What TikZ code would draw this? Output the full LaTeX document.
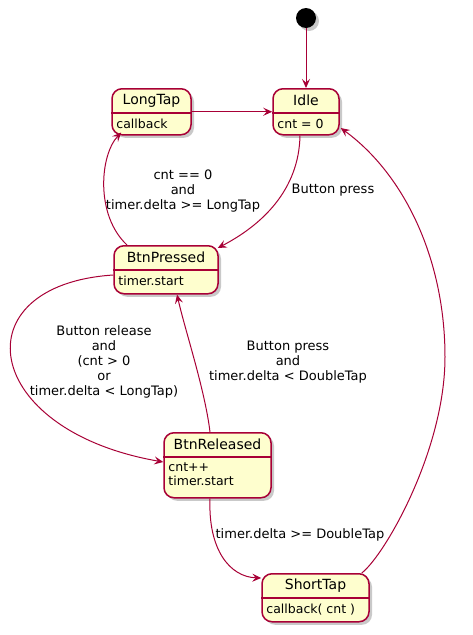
\documentclass[tikz,border=0pt]{standalone}
\usepackage{fontspec}
\setmainfont{DejaVu Sans}
\usetikzlibrary{arrows.meta,shadows}
\definecolor{stfill}{HTML}{FEFECE}
\definecolor{stline}{HTML}{A80036}
\tikzset{
  stateshape/.style={draw=stline, line width=1.5pt, fill=stfill, rounded corners=10pt, inner sep=0pt,
    drop shadow={shadow xshift=3pt, shadow yshift=-3pt, opacity=0.35, fill=black!60}},
  divline/.style={draw=stline, line width=1.5pt},
  titletext/.style={inner sep=0pt, font=\fontsize{14}{16}\selectfont},
  bodytext/.style={inner sep=0pt, align=left, font=\fontsize{12.5}{14}\selectfont},
  trans/.style={draw=stline, line width=1pt, -{Stealth[length=9pt,width=8pt,inset=3.5pt]}},
  lbl/.style={inner sep=0pt, align=center, font=\fontsize{13}{15}\selectfont},
}
\newcommand\stbox[7]{%
  \node[stateshape, minimum width=#4pt, minimum height=#5pt, anchor=north] (#1) at (#2,#3) {};
  \draw[divline] ([yshift=-25pt]#1.north west) -- ([yshift=-25pt]#1.north east);
  \node[titletext] (#1-t) at ([yshift=-12.5pt]#1.north) {#6};
  \node[bodytext, anchor=north west] (#1-b) at ([xshift=5pt,yshift=-31pt]#1.north west) {#7};
}
\begin{document}
\begin{tikzpicture}[x=1pt,y=-1pt]
\useasboundingbox (0,0) rectangle (472,635);
\fill[white] (0,0) rectangle (472,635);
% initial
\node[circle, fill=black, minimum size=20pt, inner sep=0pt,
  drop shadow={shadow xshift=3pt, shadow yshift=-3pt, opacity=0.35, fill=black!60}] (init) at (306,18) {};
% states
\stbox{idle}{306}{88}{66}{46}{Idle}{cnt = 0}
\stbox{longtap}{151.5}{88}{79}{46}{LongTap}{callback}
\stbox{btnp}{166}{245}{104}{48}{BtnPressed}{timer.start}
\stbox{btnr}{217.5}{432}{107}{65}{BtnReleased}{cnt++\\timer.start}
\stbox{shorttap}{315.5}{573}{107}{48}{ShortTap}{callback( cnt )}
% transitions
\draw[trans] (init) -- (idle.north);
\draw[trans] (longtap.east) -- (idle.west);
\draw[trans] ([xshift=-6pt]idle.south) .. controls (299,190) and (262,225) .. ([xshift=-1pt,yshift=-3pt]btnp.north east);
\node[lbl] (l1) at (333,190) {Button press};
\draw[trans] ([xshift=-39pt]btnp.north) .. controls (95,215) and (100,155) .. ([xshift=10pt,yshift=3pt]longtap.south west);
\node[lbl] (l2) at (183,191) {cnt == 0\\and\\timer.delta >= LongTap};
\draw[trans] ([yshift=-30pt]btnp.north west) .. controls (-40,285) and (-20,430) .. ([yshift=-30pt]btnr.north west);
\node[lbl] (l3) at (104,362) {Button release\\and\\(cnt > 0\\or\\timer.delta < LongTap)};
\draw[trans] ([xshift=-7.5pt]btnr.north) .. controls (205,390) and (185,330) .. ([xshift=11pt]btnp.south);
\node[lbl] (l4) at (288,362) {Button press\\and\\timer.delta < DoubleTap};
\draw[trans] ([xshift=-7.5pt]btnr.south) .. controls (208,550) and (230,577) .. ([yshift=-5pt]shorttap.north west);
\node[lbl] (l5) at (300,535) {timer.delta >= DoubleTap};
\draw[trans] ([xshift=-8pt,yshift=0pt]shorttap.north east) .. controls (385,555) and (445,450) .. (445,357)
  .. controls (445,260) and (405,175) .. ([xshift=1pt,yshift=-40pt]idle.north east);
\end{tikzpicture}
\end{document}
